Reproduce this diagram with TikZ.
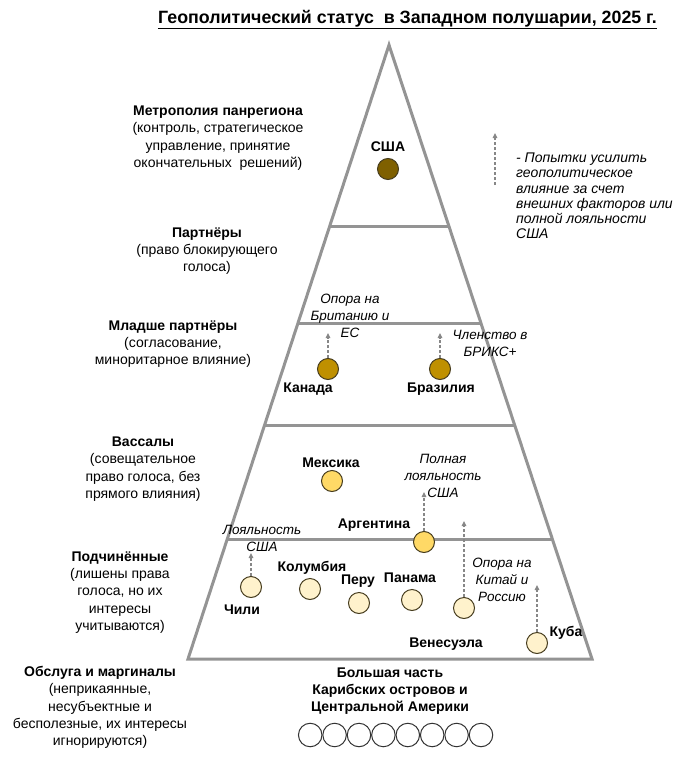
\documentclass[tikz,border=0pt]{standalone}
\usepackage{fontspec}
\setmainfont{Liberation Sans}
\usetikzlibrary{arrows.meta,calc}
\definecolor{edgegray}{RGB}{148,148,148}
\definecolor{arrgray}{RGB}{135,135,135}
\definecolor{cusa}{RGB}{127,96,0}
\definecolor{cgold}{RGB}{191,144,0}
\definecolor{cyel}{RGB}{255,217,102}
\definecolor{clight}{RGB}{255,242,204}
\definecolor{cborder}{RGB}{70,60,30}
\tikzset{
  pyr/.style={draw=edgegray,line width=3pt,line join=miter},
  circ/.style={circle,draw=cborder,line width=1pt,minimum size=21pt,inner sep=0pt},
  wcirc/.style={circle,draw=black!80,line width=1pt,minimum size=23.5pt,inner sep=0pt,fill=white},
  dar/.style={draw=arrgray,line width=1.1pt,dash pattern=on 3pt off 2pt,-{Triangle[length=5pt,width=4.5pt]}},
  lvl/.style={align=center,font=\fontsize{14}{17.3}\selectfont,inner sep=0pt},
  cname/.style={font=\fontsize{14}{17}\selectfont\bfseries,inner sep=0pt},
  note/.style={align=center,font=\fontsize{13.5}{17}\selectfont\itshape,inner sep=0pt},
}
\begin{document}
\begin{tikzpicture}[x=1pt,y=-1pt]
\useasboundingbox (0,0) rectangle (686,757);

% title
\node[font=\fontsize{17.8}{20}\selectfont\bfseries,inner sep=0pt] (title) at (407.5,19)
  {Геополитический статус\ \ в Западном полушарии, 2025 г.};
\draw[line width=1.5pt] ($(title.west)+(0,9.5)$) -- ($(title.east)+(0,9.5)$);

% pyramid
\coordinate (apex) at (389,45);
\coordinate (bl) at (188,659);
\coordinate (br) at (592,659);
\draw[pyr] (apex) -- (br) -- (bl) -- cycle;
\draw[pyr] ($(apex)!0.2948!(bl)$) -- ($(apex)!0.2948!(br)$);
\draw[pyr] ($(apex)!0.4528!(bl)$) -- ($(apex)!0.4528!(br)$);
\draw[pyr] ($(apex)!0.6189!(bl)$) -- ($(apex)!0.6189!(br)$);
\draw[pyr] ($(apex)!0.8046!(bl)$) -- ($(apex)!0.8046!(br)$);

% level labels
\node[lvl] (l1) at (218,138) {\textbf{Метрополия панрегиона}\\(контроль, стратегическое\\управление, принятие\\окончательных\ \ решений)};
\node[lvl] (l2) at (207,251) {\textbf{Партнёры}\\(право блокирующего\\голоса)};
\node[lvl] (l3) at (173,344) {\textbf{Младше партнёры}\\(согласование,\\миноритарное влияние)};
\node[lvl] (l4) at (143,469) {\textbf{Вассалы}\\(совещательное\\право голоса, без\\прямого влияния)};
\node[lvl] (l5) at (120,592.5) {\textbf{Подчинённые}\\(лишены права\\голоса, но их\\интересы\\учитываются)};
\node[lvl] (l6) at (100,707.5) {\textbf{Обслуга и маргиналы}\\(неприкаянные,\\несубъектные и\\бесполезные, их интересы\\игнорируются)};

% legend
\coordinate (lgA) at (495,185);
\coordinate (lgB) at (495,133);
\draw[dar] (lgA) -- (lgB);
\node[align=left,anchor=west,font=\fontsize{14}{15.2}\selectfont\itshape,inner sep=0pt] (legend) at (516,196)
  {- Попытки усилить\\геополитическое\\влияние за счет\\внешних факторов или\\полной лояльности\\США};

% USA
\node[circ,fill=cusa] (usa) at (388,169) {};
\node[cname] (usaL) at (388,147) {США};

% junior partners
\node[circ,fill=cgold] (can) at (328,369) {};
\node[cname] (canL) at (308,389) {Канада};
\node[circ,fill=cgold] (bra) at (440,369) {};
\node[cname] (braL) at (441,389) {Бразилия};
\coordinate (canT) at (328,333);
\coordinate (braT) at (440,333);
\draw[dar] (can) -- (canT);
\draw[dar] (bra) -- (braT);
\node[note] (canN) at (350,316) {Опора на\\Британию и\\ЕС};
\node[note] (braN) at (490,343.5) {Членство в\\БРИКС+};

% vassals
\node[circ,fill=cyel] (mex) at (332,481) {};
\node[cname] (mexL) at (331,463) {Мексика};
\node[circ,fill=cyel] (arg) at (424,542) {};
\node[cname] (argL) at (374,525) {Аргентина};
\coordinate (argT) at (424,492);
\draw[dar] (arg) -- (argT);
\node[note] (argN) at (443,476) {Полная\\лояльность\\США};

% subordinates
\node[circ,fill=clight] (chi) at (251,587) {};
\node[cname] (chiL) at (242,610) {Чили};
\coordinate (chiT) at (251,553);
\draw[dar] (chi) -- (chiT);
\node[note] (chiN) at (262,538.5) {Лояльность\\США};
\node[circ,fill=clight] (col) at (310,589) {};
\node[cname] (colL) at (312,568) {Колумбия};
\node[circ,fill=clight] (per) at (359,603) {};
\node[cname] (perL) at (358,581) {Перу};
\node[circ,fill=clight] (pan) at (412,600) {};
\node[cname] (panL) at (410,578) {Панама};
\node[circ,fill=clight] (ven) at (464,608) {};
\node[cname] (venL) at (446,644) {Венесуэла};
\coordinate (venT) at (464,521);
\draw[dar] (ven) -- (venT);
\node[note] (venN) at (502,580) {Опора на\\Китай и\\Россию};
\node[circ,fill=clight] (cub) at (537,643) {};
\node[cname] (cubL) at (566,633) {Куба};
\coordinate (cubT) at (537,585);
\draw[dar] (cub) -- (cubT);

% bottom group
\node[lvl,font=\fontsize{14}{16.7}\selectfont\bfseries] (carL) at (390,691) {Большая часть\\Карибских островов и\\Центральной Америки};
\foreach \i in {0,...,7} {
  \node[wcirc] (w\i) at (310.2+24.4*\i,735) {};
}
\end{tikzpicture}
\end{document}
